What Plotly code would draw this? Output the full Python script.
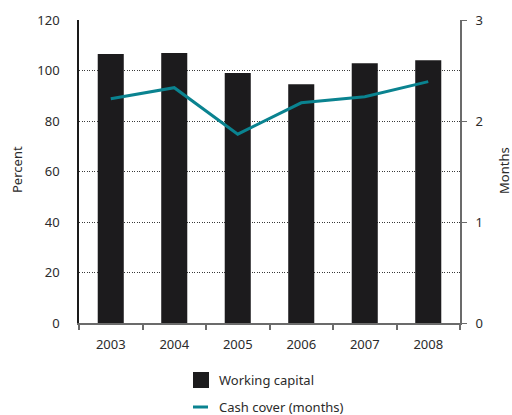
import plotly.graph_objects as go

years = ["2003", "2004", "2005", "2006", "2007", "2008"]
working_capital = [106.5, 106.9, 99.0, 94.6, 102.9, 104.1]
cash_cover_months = [2.22, 2.33, 1.87, 2.18, 2.24, 2.39]
series_names = ["Working capital", "Cash cover (months)"]
axis_titles = ["Percent", "Months"]

font_family = "Noto Sans, Open Sans, sans-serif"
text_color = "#2b2b2b"
bar_color = "#1c1b1d"
line_color = "#0a8390"

W, H = 512, 415
M_L, M_R, M_T, M_B = 79, 52, 20, 92
plot_w = W - M_L - M_R
plot_h = H - M_T - M_B


def px_x(px):
    return (px - M_L) / plot_w


def px_y(py):
    return (H - M_B - py) / plot_h


fig = go.Figure()
fig.add_trace(go.Bar(
    x=years, y=working_capital, name=series_names[0],
    marker=dict(color=bar_color, line=dict(width=0)),
    yaxis="y",
))
fig.add_trace(go.Scatter(
    x=years, y=cash_cover_months, name=series_names[1],
    mode="lines", line=dict(color=line_color, width=3),
    yaxis="y2",
))

# legend drawn below the plot: swatch + label per series
legend_shapes = [
    dict(type="rect", xref="paper", yref="paper",
         x0=px_x(193), x1=px_x(209), y0=px_y(388), y1=px_y(372),
         fillcolor=bar_color, line=dict(width=0)),
    dict(type="line", xref="paper", yref="paper",
         x0=px_x(193), x1=px_x(208), y0=px_y(407), y1=px_y(407),
         line=dict(color=line_color, width=3)),
]


def label(text, x, y, **kw):
    return dict(text=text, xref="paper", yref="paper", x=x, y=y,
                showarrow=False, font=dict(size=13, color=text_color), **kw)


annotations = [
    label(series_names[0], px_x(217), px_y(380), xanchor="left", yanchor="middle"),
    label(series_names[1], px_x(217), px_y(407), xanchor="left", yanchor="middle"),
    label(axis_titles[0], px_x(17), px_y(170), xanchor="center", yanchor="middle",
          textangle=-90),
    label(axis_titles[1], px_x(504), px_y(171), xanchor="center", yanchor="middle",
          textangle=-90),
]

fig.update_layout(
    width=W, height=H,
    margin=dict(l=M_L, r=M_R, t=M_T, b=M_B, autoexpand=False),
    paper_bgcolor="white", plot_bgcolor="white",
    font=dict(family=font_family, size=13, color=text_color),
    bargap=0.59,
    showlegend=False,
    xaxis=dict(
        showgrid=False, showline=True, linecolor="#6b6b6b", linewidth=2,
        ticks="outside", ticklen=5, tickcolor="#6b6b6b", tickwidth=2,
        tickson="boundaries", ticklabelstandoff=8, automargin=False,
    ),
    yaxis=dict(
        range=[0, 120], dtick=20, showline=True, linecolor="#1a1a1a", linewidth=1.5,
        showgrid=True, gridcolor="#3a3a3a", griddash="1px,1.5px", gridwidth=1,
        zeroline=False, ticks="", ticklabelstandoff=15, automargin=False,
    ),
    yaxis2=dict(
        range=[0, 3], dtick=1, overlaying="y", side="right",
        showline=True, linecolor="#6b6b6b", linewidth=2,
        showgrid=False, zeroline=False, automargin=False,
        ticks="outside", ticklen=5, tickcolor="#6b6b6b", tickwidth=1,
        ticklabelstandoff=6,
    ),
    shapes=legend_shapes,
    annotations=annotations,
)

fig.write_html("out.html")
